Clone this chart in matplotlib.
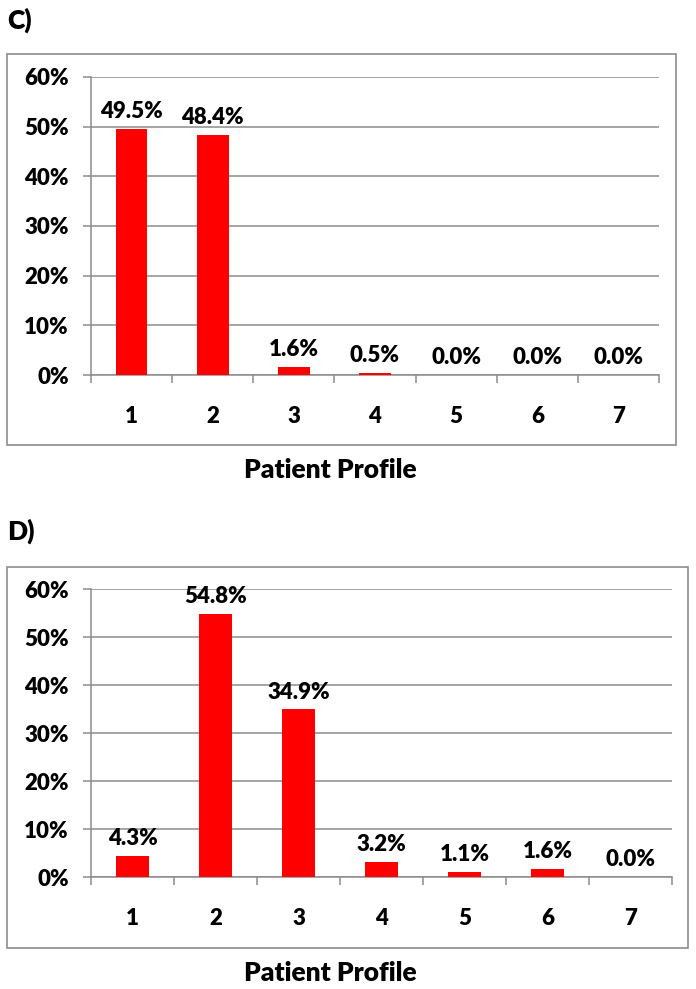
import matplotlib
matplotlib.use("Agg")
import matplotlib.pyplot as plt
from matplotlib.patches import Rectangle
from matplotlib.ticker import FixedLocator, NullFormatter

W, H = 696, 989

profiles = ["1", "2", "3", "4", "5", "6", "7"]
values_c = [49.5, 48.4, 1.6, 0.5, 0.0, 0.0, 0.0]
values_d = [4.3, 54.8, 34.9, 3.2, 1.1, 1.6, 0.0]
yticks = [0, 10, 20, 30, 40, 50, 60]

plt.rcParams["font.family"] = ["Lato", "DejaVu Sans"]
plt.rcParams["font.weight"] = "bold"

GRID = "#8c8c8c"
RED = "#ff0000"
FS = 16


def fx(x):
    return x / W


def fy(y):
    return 1 - y / H


def draw_panel(fig, letter, vals, box, plot, letter_y, title_y):
    bx0, by0, bx1, by1 = box
    fig.patches.append(Rectangle((fx(bx0), fy(by1)), fx(bx1 - bx0), (by1 - by0) / H,
                                 transform=fig.transFigure, fill=False,
                                 edgecolor=GRID, linewidth=1.2))
    fig.text(fx(7), fy(letter_y), letter, fontsize=19, fontweight="heavy", va="center", ha="left")
    px0, py0, px1, py1 = plot
    ax = fig.add_axes([fx(px0), fy(py1), fx(px1 - px0), (py1 - py0) / H])
    x = list(range(1, len(vals) + 1))
    ax.bar(x, vals, width=0.39, color=RED, zorder=3)
    for xi, v in zip(x, vals):
        ax.annotate(f"{v:.1f}%", (xi, v), xytext=(0, 5), textcoords="offset points",
                    ha="center", va="bottom", fontsize=FS, fontweight="heavy")
    ax.set_xlim(0.5, len(vals) + 0.5)
    ax.set_ylim(0, 60)
    ax.set_yticks(yticks)
    ax.set_yticklabels([f"{t}%" for t in yticks])
    ax.yaxis.grid(True, color=GRID, linewidth=1.1)
    ax.set_axisbelow(True)
    ax.xaxis.set_major_locator(FixedLocator([i + 0.5 for i in range(len(vals) + 1)]))
    ax.xaxis.set_major_formatter(NullFormatter())
    ax.xaxis.set_minor_locator(FixedLocator(x))
    ax.set_xticklabels(profiles, minor=True)
    ax.tick_params(axis="x", which="major", length=6, color=GRID, width=1.1)
    ax.tick_params(axis="x", which="minor", length=0, pad=22, labelsize=FS)
    ax.tick_params(axis="y", length=6, color=GRID, width=1.1, labelsize=FS, pad=10)
    for s in ("top", "right"):
        ax.spines[s].set_visible(False)
    for s in ("left", "bottom"):
        ax.spines[s].set_color(GRID)
        ax.spines[s].set_linewidth(1.1)
    for lab in ax.get_xticklabels(minor=True) + ax.get_yticklabels():
        lab.set_fontweight("heavy")
    fig.text(fx(330), fy(title_y), "Patient Profile", fontsize=19,
             fontweight="heavy", ha="center", va="center")
    return ax


fig = plt.figure(figsize=(W / 100, H / 100), dpi=100, facecolor="white")
draw_panel(fig, "C)", values_c, (7, 54, 676, 445), (91, 77, 659, 375), 20, 470)
draw_panel(fig, "D)", values_d, (7, 567, 688, 948), (91, 589, 672, 877), 531, 973)
fig.savefig("out.png", dpi=100, facecolor="white")
